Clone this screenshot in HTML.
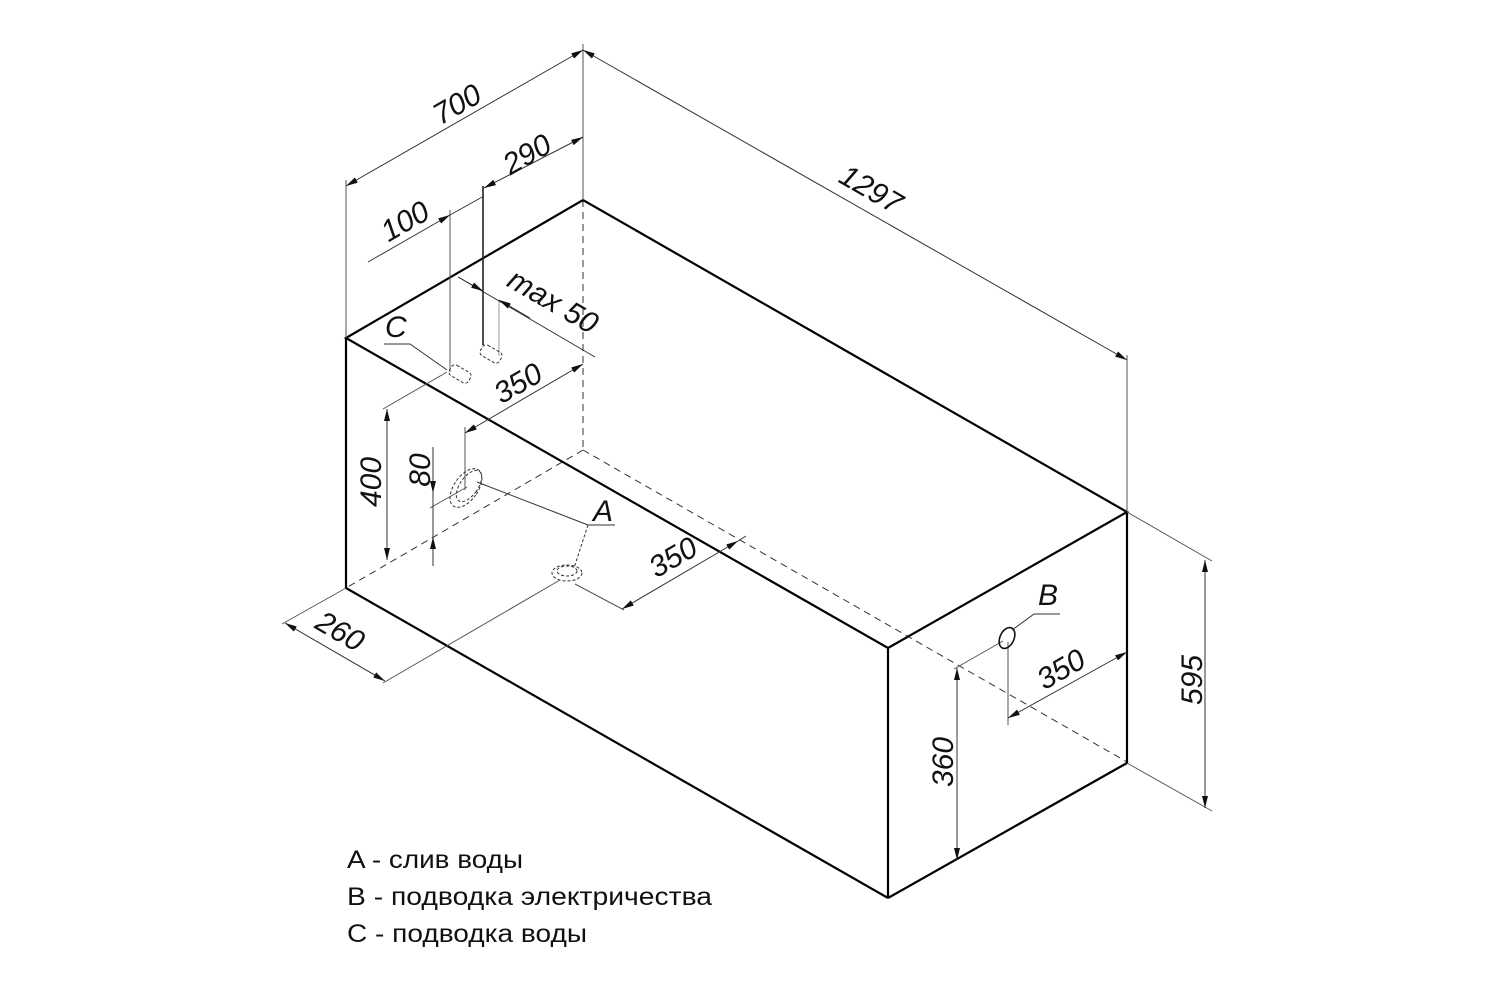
<!DOCTYPE html>
<html><head><meta charset="utf-8"><style>
html,body{margin:0;padding:0;background:#fff;width:1500px;height:1000px;overflow:hidden}
svg{display:block}
.t{font-family:"Liberation Sans","DejaVu Sans",sans-serif;font-style:italic;font-size:30px;fill:#111}
.lg{font-family:"Liberation Sans","DejaVu Sans",sans-serif;font-size:25px;fill:#111}
</style></head><body>
<svg width="1500" height="1000" viewBox="0 0 1500 1000" xmlns="http://www.w3.org/2000/svg">
<defs>
<marker id="a" viewBox="0 0 12 6" refX="12" refY="3" markerWidth="12" markerHeight="6" orient="auto-start-reverse" markerUnits="userSpaceOnUse"><path d="M0,0 L12,3 L0,6 z" fill="#111"/></marker>
</defs>
<g stroke="#333" stroke-width="1" stroke-dasharray="7,5" fill="none">
<line x1="583" y1="200" x2="583" y2="450"/>
<line x1="583" y1="450" x2="346" y2="588"/>
<line x1="583" y1="450" x2="1127" y2="762"/>
</g>
<g stroke="#000" stroke-width="2.2" fill="none" stroke-linejoin="miter">
<polygon points="346,338 583,200 1127,512 888,648"/>
<line x1="346" y1="338" x2="346" y2="588"/>
<line x1="346" y1="588" x2="888" y2="898"/>
<line x1="888" y1="648" x2="888" y2="898"/>
<line x1="888" y1="898" x2="1127" y2="763"/>
<line x1="1127" y1="512" x2="1127" y2="763"/>
</g>
<g stroke="#555" stroke-width="1" fill="none">
<line x1="346" y1="338" x2="346" y2="180"/>
<line x1="583" y1="200" x2="583" y2="44"/>
<line x1="1127" y1="512" x2="1127" y2="355"/>
<line x1="450" y1="210" x2="450" y2="372"/>
<line x1="483" y1="186" x2="483" y2="345" stroke="#222" stroke-width="1.6"/>
<line x1="499" y1="300" x2="499" y2="356" stroke="#999"/>
<line x1="1127" y1="512" x2="1212" y2="561"/>
<line x1="1127" y1="763" x2="1212" y2="811"/>
<line x1="346" y1="588" x2="282" y2="624"/>
<line x1="560" y1="580" x2="383" y2="683"/>
<line x1="575" y1="584" x2="624" y2="610"/>
<line x1="465" y1="427" x2="465" y2="490"/>
<line x1="383" y1="409" x2="447" y2="372"/>
<line x1="430" y1="508" x2="467" y2="487"/>
<line x1="954" y1="669" x2="1003" y2="641"/>
<line x1="1008" y1="642" x2="1008" y2="725"/>
</g>
<g stroke="#333" stroke-width="1" fill="none">
<line x1="346" y1="186" x2="583" y2="50" marker-start="url(#a)" marker-end="url(#a)"/>
<line x1="583" y1="50" x2="1127" y2="360" marker-start="url(#a)" marker-end="url(#a)"/>
<line x1="484" y1="188" x2="583" y2="137" marker-start="url(#a)" marker-end="url(#a)"/>
<line x1="368" y1="262" x2="450" y2="215" marker-end="url(#a)"/>
<line x1="450" y1="215" x2="484" y2="196"/>
<line x1="458" y1="277" x2="595" y2="357"/>
<line x1="458" y1="277" x2="483" y2="291" marker-end="url(#a)"/>
<line x1="530" y1="318" x2="499" y2="300" marker-end="url(#a)"/>
<line x1="465" y1="433" x2="583" y2="364" marker-start="url(#a)" marker-end="url(#a)"/>
<line x1="387" y1="409" x2="387" y2="560" marker-start="url(#a)" marker-end="url(#a)"/>
<line x1="433" y1="447" x2="433" y2="566"/>
<line x1="433" y1="470" x2="433" y2="493" marker-end="url(#a)"/>
<line x1="433" y1="560" x2="433" y2="537" marker-end="url(#a)"/>
<line x1="285" y1="623" x2="385" y2="681" marker-start="url(#a)" marker-end="url(#a)"/>
<line x1="622" y1="609" x2="738" y2="541" marker-start="url(#a)" marker-end="url(#a)"/>
<line x1="738" y1="541" x2="746" y2="536"/>
<line x1="957" y1="668" x2="957" y2="860" marker-start="url(#a)" marker-end="url(#a)"/>
<line x1="1008" y1="718" x2="1127" y2="652" marker-start="url(#a)" marker-end="url(#a)"/>
<line x1="1205" y1="560" x2="1205" y2="808" marker-start="url(#a)" marker-end="url(#a)"/>
</g>
<g stroke="#333" stroke-width="1" fill="none" stroke-dasharray="3,2">
<ellipse cx="466" cy="488" rx="12" ry="22" transform="rotate(35 466 488)"/>
<ellipse cx="469" cy="486" rx="9" ry="18" transform="rotate(35 469 486)"/>
<ellipse cx="567" cy="573" rx="15" ry="8"/>
<ellipse cx="567" cy="571" rx="10" ry="5"/>
<rect x="449" y="368" width="22" height="12" rx="4" transform="rotate(30 460 374)"/>
<rect x="480" y="348" width="22" height="12" rx="4" transform="rotate(30 491 354)"/>
</g>
<ellipse cx="1007" cy="638" rx="7" ry="11" transform="rotate(25 1007 638)" fill="none" stroke="#111" stroke-width="1.6"/>
<g stroke="#333" stroke-width="1" fill="none">
<polyline points="384,344 410,344 447,370"/>
<line x1="477" y1="482" x2="588" y2="525"/>
<line x1="588" y1="525" x2="615" y2="525"/>
<line x1="588" y1="525" x2="574" y2="568" stroke-dasharray="3,2"/>
<polyline points="1012,630 1034,614 1060,614"/>
</g>
<g class="t">
<text transform="translate(462,113) rotate(-30)" text-anchor="middle">700</text>
<text transform="translate(532,163) rotate(-30)" text-anchor="middle">290</text>
<text transform="translate(410,230) rotate(-30)" text-anchor="middle">100</text>
<text transform="translate(866,198) rotate(30)" text-anchor="middle">1297</text>
<text transform="translate(548,310) rotate(30)" text-anchor="middle">max 50</text>
<text transform="translate(523,392) rotate(-30)" text-anchor="middle">350</text>
<text transform="translate(381,482) rotate(-90)" text-anchor="middle">400</text>
<text transform="translate(430,470) rotate(-90)" text-anchor="middle">80</text>
<text x="593" y="521">A</text>
<text transform="translate(678,566) rotate(-30)" text-anchor="middle">350</text>
<text transform="translate(335,640) rotate(30)" text-anchor="middle">260</text>
<text x="1038" y="605">B</text>
<text transform="translate(1066,678) rotate(-30)" text-anchor="middle">350</text>
<text transform="translate(953,762) rotate(-90)" text-anchor="middle">360</text>
<text transform="translate(1202,680) rotate(-90)" text-anchor="middle">595</text>
<text x="385" y="337">C</text>
</g>
<g class="lg">
<text x="347" y="868" textLength="176" lengthAdjust="spacingAndGlyphs">A - слив воды</text>
<text x="347" y="905" textLength="365" lengthAdjust="spacingAndGlyphs">B - подводка электричества</text>
<text x="347" y="942" textLength="240" lengthAdjust="spacingAndGlyphs">C - подводка воды</text>
</g>
</svg>
</body></html>
